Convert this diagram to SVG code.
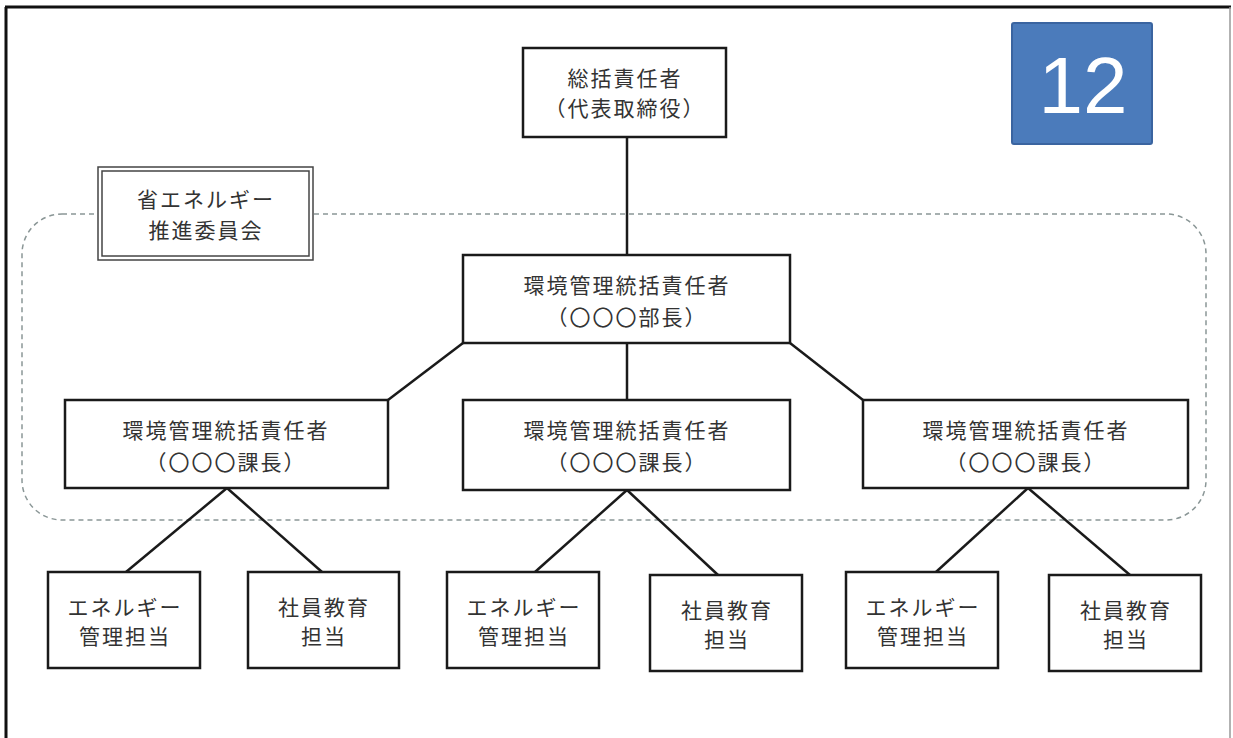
<svg xmlns="http://www.w3.org/2000/svg" width="1233" height="738" viewBox="0 0 1233 738">
<style>
.box{fill:#fff;stroke:#1a1a1a;stroke-width:2.5}
.t{font-family:"Noto Sans CJK JP","Noto Sans CJK SC",sans-serif;font-size:21px;fill:#333;text-anchor:middle;letter-spacing:2px}
.conn line{stroke:#1a1a1a;stroke-width:2.5}
</style>
<rect width="1233" height="738" fill="#fff"/>
<g id="frame">
<line x1="6" y1="7" x2="6" y2="738" stroke="#111" stroke-width="3"/>
<line x1="5" y1="7" x2="1231" y2="7" stroke="#111" stroke-width="3"/>
<line x1="1230" y1="7" x2="1230" y2="738" stroke="#999" stroke-width="1.5"/>
</g>
<g id="committee-area">
<rect x="22" y="214" width="1184" height="306" rx="40" ry="40" fill="none" stroke="#8a9696" stroke-width="1.5" stroke-dasharray="5,4"/>
</g>
<g class="conn" id="connectors">
<line x1="627" y1="137" x2="627" y2="255"/>
<line x1="463" y1="343" x2="388" y2="400"/>
<line x1="627" y1="343" x2="627" y2="400"/>
<line x1="790" y1="343" x2="863" y2="400"/>
<line x1="227" y1="488" x2="126" y2="572"/>
<line x1="227" y1="488" x2="322" y2="572"/>
<line x1="627" y1="490" x2="535" y2="572"/>
<line x1="627" y1="490" x2="718" y2="575"/>
<line x1="1028" y1="488" x2="936" y2="572"/>
<line x1="1028" y1="488" x2="1130" y2="575"/>
</g>
<g id="committee-label">
<rect x="98" y="167" width="215" height="93" fill="#fff" stroke="#444" stroke-width="1.5"/>
<rect x="102" y="171" width="207" height="85" fill="none" stroke="#444" stroke-width="1.5"/>
<text class="t" x="206" y="207">省エネルギー</text>
<text class="t" x="206" y="238">推進委員会</text>
</g>
<g id="badge">
<rect x="1012" y="23" width="140" height="121" rx="2" fill="#4b7bbb" stroke="#3a64a0" stroke-width="2"/>
<text x="1083" y="113" font-family="'Liberation Sans',Arial,sans-serif" font-size="80" fill="#fff" text-anchor="middle">12</text>
</g>
<g id="top">
<rect class="box" x="523" y="48" width="203" height="89"/>
<text class="t" x="625" y="86">総括責任者</text>
<text class="t" x="625" y="116">（代表取締役）</text>
</g>
<g id="mid">
<rect class="box" x="463" y="255" width="327" height="88"/>
<text class="t" x="627" y="293">環境管理統括責任者</text>
<text class="t" x="627" y="325">（〇〇〇部長）</text>
</g>
<g id="sec1">
<rect class="box" x="65" y="400" width="323" height="88"/>
<text class="t" x="226" y="438">環境管理統括責任者</text>
<text class="t" x="226" y="470">（〇〇〇課長）</text>
</g>
<g id="sec2">
<rect class="box" x="463" y="400" width="327" height="90"/>
<text class="t" x="627" y="438">環境管理統括責任者</text>
<text class="t" x="627" y="470">（〇〇〇課長）</text>
</g>
<g id="sec3">
<rect class="box" x="863" y="400" width="325" height="88"/>
<text class="t" x="1026" y="438">環境管理統括責任者</text>
<text class="t" x="1026" y="470">（〇〇〇課長）</text>
</g>
<g id="leaf1">
<rect class="box" x="48" y="572" width="152" height="96"/>
<text class="t" x="125" y="615">エネルギー</text>
<text class="t" x="125" y="644">管理担当</text>
</g>
<g id="leaf2">
<rect class="box" x="248" y="572" width="151" height="96"/>
<text class="t" x="324" y="615">社員教育</text>
<text class="t" x="324" y="644">担当</text>
</g>
<g id="leaf3">
<rect class="box" x="447" y="572" width="152" height="96"/>
<text class="t" x="524" y="615">エネルギー</text>
<text class="t" x="524" y="644">管理担当</text>
</g>
<g id="leaf4">
<rect class="box" x="650" y="575" width="152" height="96"/>
<text class="t" x="727" y="618">社員教育</text>
<text class="t" x="727" y="647">担当</text>
</g>
<g id="leaf5">
<rect class="box" x="846" y="572" width="152" height="96"/>
<text class="t" x="923" y="615">エネルギー</text>
<text class="t" x="923" y="644">管理担当</text>
</g>
<g id="leaf6">
<rect class="box" x="1049" y="575" width="152" height="96"/>
<text class="t" x="1126" y="618">社員教育</text>
<text class="t" x="1126" y="647">担当</text>
</g>
</svg>
